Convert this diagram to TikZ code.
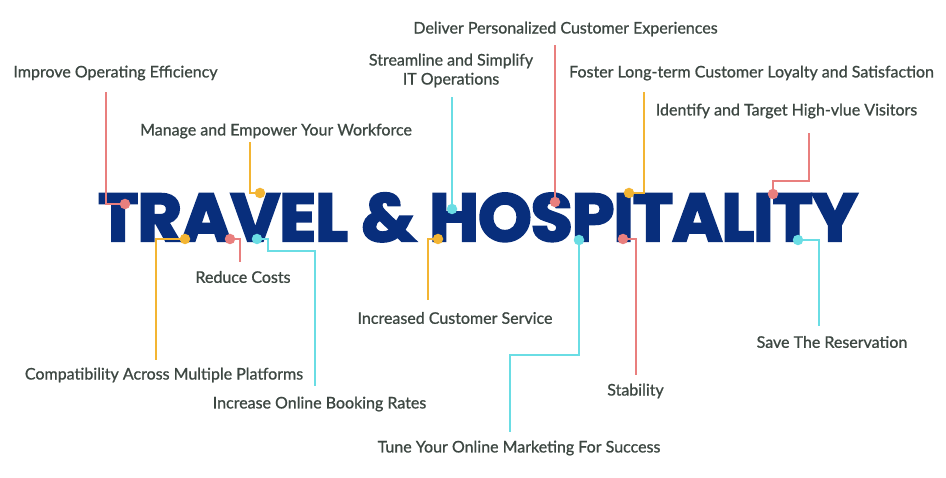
\documentclass[tikz,border=0pt]{standalone}
\usepackage{fontspec}
\setmainfont{Lato}[UprightFeatures={FakeBold=0.9}]
\newfontfamily\titlefont{Poppins}[BoldFeatures={FakeBold=3.5,LetterSpace=-1}]
\usepackage{graphicx}
\definecolor{navy}{HTML}{082E7C}
\definecolor{cred}{HTML}{E97F7E}
\definecolor{cyel}{HTML}{F3B533}
\definecolor{ccya}{HTML}{6ADDE4}
\definecolor{txt}{HTML}{3D4742}
\tikzset{
  lab/.style={text=txt, font=\fontsize{16}{19}\selectfont, inner sep=0pt, align=center},
  conn/.style={line width=2pt},
  dot/.style={circle, fill, inner sep=0pt, minimum size=10.5pt},
}
\begin{document}
\begin{tikzpicture}[x=1pt,y=-1pt]
\fill[white] (0,0) rectangle (946,478);
\useasboundingbox (0,0) rectangle (946,478);
% title
\node[anchor=base west, inner sep=0pt, text=navy] (title) at (98,241)
  {\resizebox{759pt}{48pt}{\titlefont\bfseries TRAVEL \& HOSPITALITY}};
% labels
\node[lab] (l1) at (115.5,73) {Improve Operating Efficiency};
\node[lab] (l2) at (276,131) {Manage and Empower Your Workforce};
\node[lab] (l3) at (451,70.5) {Streamline and Simplify\\IT Operations};
\node[lab] (l4) at (565.5,29) {Deliver Personalized Customer Experiences};
\node[lab] (l5) at (751.5,73) {Foster Long-term Customer Loyalty and Satisfaction};
\node[lab] (l6) at (786.5,111) {Identify and Target High-vlue Visitors};
\node[lab] (l7) at (164,375) {Compatibility Across Multiple Platforms};
\node[lab] (l8) at (243,277) {Reduce Costs};
\node[lab] (l9) at (319.5,404) {Increase Online Booking Rates};
\node[lab] (l10) at (455,318) {Increased Customer Service};
\node[lab] (l11) at (519,448) {Tune Your Online Marketing For Success};
\node[lab] (l12) at (635.5,391) {Stability};
\node[lab] (l13) at (832,342) {Save The Reservation};
% anchor points
\coordinate (p1) at (125,204); \coordinate (e1) at (106,92);
\coordinate (p2) at (260,193); \coordinate (e2) at (250,142);
\coordinate (p3) at (452,209); \coordinate (e3) at (452,97);
\coordinate (p4) at (555,202); \coordinate (e4) at (555,45);
\coordinate (p5) at (629,193); \coordinate (e5) at (644,92);
\coordinate (p6) at (773,194); \coordinate (c6) at (809,181); \coordinate (e6) at (809,133);
\coordinate (p7) at (185,239); \coordinate (e7) at (156,360);
\coordinate (p8) at (230,239); \coordinate (e8) at (240,262);
\coordinate (p9) at (257,239); \coordinate (c9) at (268,251); \coordinate (e9) at (315,386);
\coordinate (p10) at (438,239); \coordinate (e10) at (428,300);
\coordinate (p11) at (579,240); \coordinate (c11) at (510,355); \coordinate (e11) at (510,432);
\coordinate (p12) at (623,239); \coordinate (e12) at (636,375);
\coordinate (p13) at (798,240); \coordinate (e13) at (819,326);
% connectors
\draw[conn, cred] (p1) -| (e1);
\draw[conn, cyel] (p2) -| (e2);
\draw[conn, ccya] (p3) -- (e3);
\draw[conn, cred] (p4) -- (e4);
\draw[conn, cyel] (p5) -| (e5);
\draw[conn, cred] (p6) |- (c6) -- (e6);
\draw[conn, cyel] (p7) -| (e7);
\draw[conn, cred] (p8) -| (e8);
\draw[conn, ccya] (p9) -| (c9) -| (e9);
\draw[conn, cyel] (p10) -| (e10);
\draw[conn, ccya] (p11) |- (c11) -- (e11);
\draw[conn, cred] (p12) -| (e12);
\draw[conn, ccya] (p13) -| (e13);
% dots
\node[dot, cred] (d1) at (p1) {};
\node[dot, cyel] (d2) at (p2) {};
\node[dot, ccya] (d3) at (p3) {};
\node[dot, cred] (d4) at (p4) {};
\node[dot, cyel] (d5) at (p5) {};
\node[dot, cred] (d6) at (p6) {};
\node[dot, cyel] (d7) at (p7) {};
\node[dot, cred] (d8) at (p8) {};
\node[dot, ccya] (d9) at (p9) {};
\node[dot, cyel] (d10) at (p10) {};
\node[dot, ccya] (d11) at (p11) {};
\node[dot, cred] (d12) at (p12) {};
\node[dot, ccya] (d13) at (p13) {};
\end{tikzpicture}
\end{document}
